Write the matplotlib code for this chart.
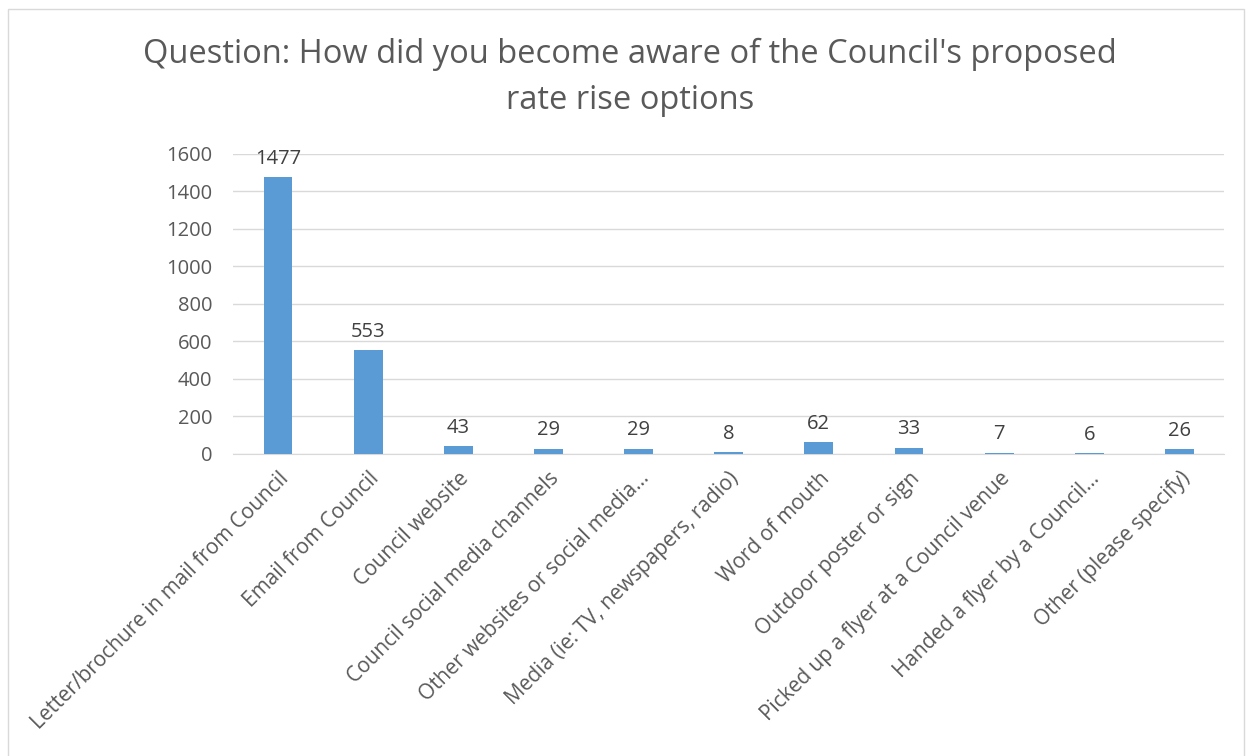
import matplotlib.pyplot as plt
from matplotlib.patches import Rectangle

categories = [
    'Letter/brochure in mail from Council',
    'Email from Council',
    'Council website',
    'Council social media channels',
    'Other websites or social media...',
    'Media (ie: TV, newspapers, radio)',
    'Word of mouth',
    'Outdoor poster or sign',
    'Picked up a flyer at a Council venue',
    'Handed a flyer by a Council...',
    'Other (please specify)',
]
responses = [1477, 553, 43, 29, 29, 8, 62, 33, 7, 6, 26]
y_ticks = [0, 200, 400, 600, 800, 1000, 1200, 1400, 1600]

plt.rcParams['font.family'] = ['Open Sans', 'DejaVu Sans']

fig = plt.figure(figsize=(12.52, 7.56), dpi=100)
ax = fig.add_axes([0.186, 0.3995, 0.792, 0.3968])

x = range(len(categories))
bars = ax.bar(x, responses, width=0.32, color='#5B9BD5', zorder=3)

for bar, val in zip(bars, responses):
    ax.annotate(str(val), (bar.get_x() + bar.get_width() / 2, val),
                xytext=(0, 6), textcoords='offset points',
                ha='center', va='bottom', fontsize=14.5, color='#404040')

ax.set_ylim(0, 1600)
ax.set_xlim(-0.5, len(categories) - 0.5)
ax.set_yticks(y_ticks)
ax.set_yticklabels([str(t) for t in y_ticks], fontsize=14.5, color='#595959')
ax.set_xticks(list(x))
ax.set_xticklabels(categories, rotation=45, ha='right', rotation_mode='anchor',
                   fontsize=15, color='#595959')
ax.tick_params(axis='both', length=0)
ax.tick_params(axis='y', pad=15)
ax.tick_params(axis='x', pad=10)
ax.grid(axis='y', color='#D9D9D9', linewidth=1, zorder=0)
for side in ['top', 'right', 'left']:
    ax.spines[side].set_visible(False)
ax.spines['bottom'].set_color('#D9D9D9')

fig.text(0.503, 0.928, "Question: How did you become aware of the Council's proposed",
         ha='center', va='center', fontsize=23.5, color='#595959')
fig.text(0.503, 0.867, "rate rise options",
         ha='center', va='center', fontsize=23.5, color='#595959')

# light frame round the whole chart
fig.patches.append(Rectangle((0.006, -0.01), 0.988, 0.998, transform=fig.transFigure,
                             fill=False, edgecolor='#D9D9D9', linewidth=1))

fig.savefig('out.png', dpi=100)
